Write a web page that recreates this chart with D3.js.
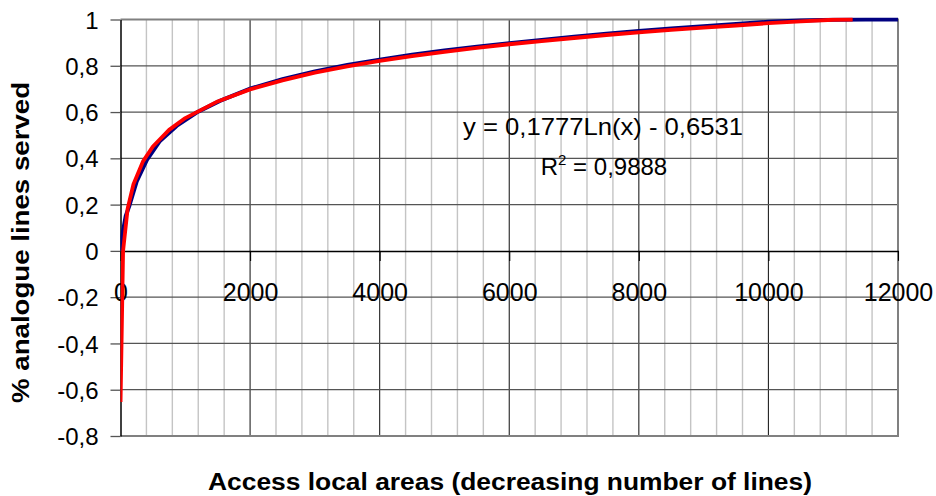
<!DOCTYPE html>
<html lang="en">
    <head>
        <meta charset="utf-8">
        <title>Analogue lines served</title>
        <script type="text/javascript" src="https://cdn.jsdelivr.net/npm/d3@7"></script>
        <style>
            body { margin: 0; background: #fff; }
            text { font-family: "Liberation Sans", Arial, sans-serif; fill: #000; }
        </style>
    </head>
    <body>
        <script type="text/javascript">
            var w = 936;
            var h = 496;

            // cumulative share of lines (blue)
            var dataX = [0, 15, 35, 80, 136, 250, 413, 609, 866, 1175, 1534, 2000, 2500, 3000, 3500, 4000,
                         4500, 5000, 5500, 6000, 6500, 7000, 7500, 8000, 8500, 9000, 9500, 10000, 10500,
                         11000, 11500, 12000];
            var dataY = [0, 0.05, 0.08, 0.15, 0.195, 0.30, 0.396, 0.475, 0.54, 0.598, 0.648, 0.701, 0.742,
                         0.775, 0.803, 0.826, 0.848, 0.866, 0.882, 0.897, 0.911, 0.925, 0.938, 0.95, 0.961,
                         0.971, 0.981, 0.99, 0.996, 0.999, 1.0, 1.0];

            // logarithmic trendline (red)
            var fitX = [1, 40, 110, 200, 350, 500, 750, 1000, 1500, 2000, 2500, 3000, 3500, 4000, 4500,
                        5000, 5500, 6000, 6500, 7000, 7500, 8000, 8500, 9000, 9500, 10000, 10500, 11000, 11300];
            var fitY = [-0.653, 0.0, 0.182, 0.288, 0.388, 0.451, 0.523, 0.574, 0.646, 0.698, 0.737, 0.770,
                        0.797, 0.821, 0.842, 0.860, 0.877, 0.893, 0.907, 0.920, 0.933, 0.944, 0.955, 0.965,
                        0.974, 0.984, 0.992, 0.999, 1.0];

            var xTicks = [0, 2000, 4000, 6000, 8000, 10000, 12000];
            var xMinor = d3.range(0, 12001, 400);
            var yTicks = [-0.8, -0.6, -0.4, -0.2, 0, 0.2, 0.4, 0.6, 0.8, 1];

            var equation = "y = 0,1777Ln(x) - 0,6531";
            var rSquared = "0,9888";
            var xTitle = "Access local areas (decreasing number of lines)";
            var yTitle = "% analogue lines served";

            var xScale = d3.scaleLinear().domain([0, 12000]).range([120.5, 898]);
            var yScale = d3.scaleLinear().domain([-0.8, 1]).range([436, 19.5]);

            var fmt = function(d) { return String(+d.toFixed(1)).replace(".", ","); };

            var svg = d3.select("body").append("svg")
                        .attr("width", w)
                        .attr("height", h);

            svg.append("clipPath").attr("id", "plot")
               .append("rect")
               .attr("x", xScale(0)).attr("y", yScale(1) - 2)
               .attr("width", xScale(12000) - xScale(0) + 3)
               .attr("height", yScale(-0.8) - yScale(1) + 2);

            // minor vertical grid
            svg.selectAll("line.minor")
               .data(xMinor.filter(function(d) { return d % 2000 !== 0; }))
               .enter().append("line")
               .attr("class", "minor")
               .attr("x1", function(d) { return xScale(d); })
               .attr("x2", function(d) { return xScale(d); })
               .attr("y1", yScale(1)).attr("y2", yScale(-0.8))
               .attr("stroke", "#c4c4c4").attr("stroke-width", 1.4);

            // major vertical grid
            svg.selectAll("line.major")
               .data(xTicks.slice(1, -1))
               .enter().append("line")
               .attr("class", "major")
               .attr("x1", function(d) { return xScale(d); })
               .attr("x2", function(d) { return xScale(d); })
               .attr("y1", yScale(1)).attr("y2", yScale(-0.8))
               .attr("stroke", "#222").attr("stroke-width", 1.1);

            // horizontal grid
            svg.selectAll("line.hgrid")
               .data(yTicks.filter(function(d) { return d !== 0 && d !== 1 && d !== -0.8; }))
               .enter().append("line")
               .attr("class", "hgrid")
               .attr("x1", xScale(0)).attr("x2", xScale(12000))
               .attr("y1", function(d) { return yScale(d); })
               .attr("y2", function(d) { return yScale(d); })
               .attr("stroke", "#555").attr("stroke-width", 1.3);

            // plot border (top, right, bottom)
            svg.append("path")
               .attr("d", "M" + xScale(0) + "," + yScale(1) + "H" + xScale(12000) + "V" + yScale(-0.8) + "H" + xScale(0))
               .attr("fill", "none").attr("stroke", "#808080").attr("stroke-width", 2);

            // y axis
            var yAxis = d3.axisLeft(yScale).tickValues(yTicks).tickFormat(fmt)
                          .tickSize(10).tickPadding(12).tickSizeOuter(0);
            var gy = svg.append("g")
               .attr("transform", "translate(" + xScale(0) + ",0)")
               .call(yAxis);
            gy.select(".domain").attr("stroke", "#000").attr("stroke-width", 1.5);
            gy.selectAll(".tick line").attr("stroke", "#555").attr("stroke-width", 1.3);
            gy.selectAll(".tick text")
              .attr("font-size", "24px").attr("font-family", null).attr("dy", "0.36em");

            // x axis through zero
            var xAxis = d3.axisBottom(xScale).tickValues(xTicks).tickFormat(d3.format("d"))
                          .tickSize(10).tickPadding(22).tickSizeOuter(0);
            var gx = svg.append("g")
               .attr("transform", "translate(0," + yScale(0) + ")")
               .call(xAxis);
            gx.select(".domain").attr("stroke", "#000").attr("stroke-width", 1.5);
            gx.selectAll(".tick line").attr("stroke", "#000").attr("stroke-width", 1.1);
            gx.selectAll(".tick text")
              .attr("font-size", "25px").attr("font-family", null);

            var line = d3.line()
                         .x(function(d) { return xScale(d[0]); })
                         .y(function(d) { return yScale(d[1]); });

            var plot = svg.append("g").attr("clip-path", "url(#plot)");

            plot.append("path")
               .datum(d3.zip(dataX, dataY))
               .attr("d", line)
               .attr("fill", "none")
               .attr("stroke", "#000080")
               .attr("stroke-width", 4);

            plot.append("path")
               .datum(d3.zip(fitX, fitY))
               .attr("d", line)
               .attr("fill", "none")
               .attr("stroke", "#ff0000")
               .attr("stroke-width", 3.8)
               .attr("stroke-linejoin", "round");

            // trendline label
            svg.append("text")
               .attr("x", 603).attr("y", 135)
               .attr("text-anchor", "middle")
               .attr("font-size", "24px")
               .attr("textLength", 280).attr("lengthAdjust", "spacingAndGlyphs")
               .text(equation);

            var r2 = svg.append("text")
               .attr("x", 604).attr("y", 175)
               .attr("text-anchor", "middle")
               .attr("font-size", "24px");
            r2.append("tspan").text("R");
            r2.append("tspan").attr("font-size", "15px").attr("dy", -10).text("2");
            r2.append("tspan").attr("dy", 10).text(" = " + rSquared);

            // axis titles
            svg.append("text")
               .attr("x", 510).attr("y", 490)
               .attr("text-anchor", "middle")
               .attr("font-size", "23px").attr("font-weight", "bold")
               .attr("textLength", 604).attr("lengthAdjust", "spacingAndGlyphs")
               .text(xTitle);

            svg.append("text")
               .attr("transform", "translate(29,242.5) rotate(-90)")
               .attr("text-anchor", "middle")
               .attr("font-size", "23px").attr("font-weight", "bold")
               .attr("textLength", 321).attr("lengthAdjust", "spacingAndGlyphs")
               .text(yTitle);
        </script>
    </body>
</html>
